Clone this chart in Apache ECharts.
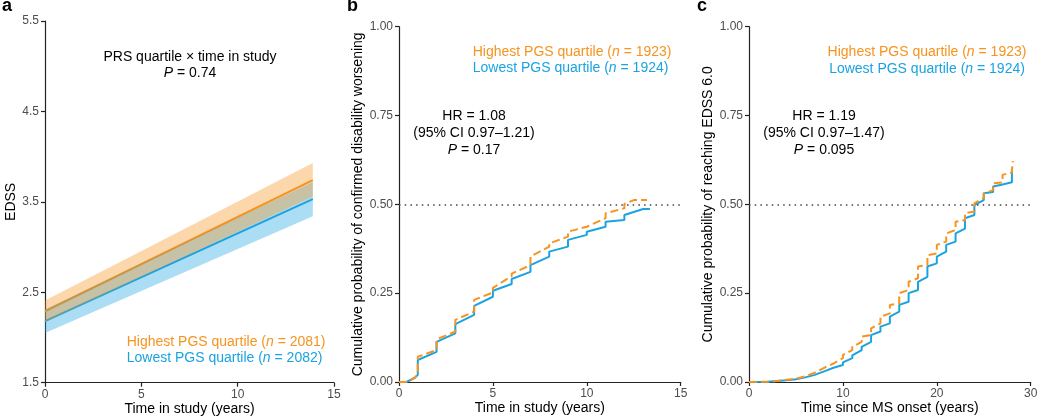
<!DOCTYPE html>
<html><head><meta charset="utf-8">
<script src="https://cdn.jsdelivr.net/npm/echarts@6/dist/echarts.min.js"></script>
<style>html,body{margin:0;padding:0;background:#fff}#c{width:1038px;height:418px}</style>
</head><body><div id="c"></div>
<script>
// ---- Panel a: linear mixed model fit (EDSS vs time in study)
const aTime = [0, 13.9];
const aHighFit = [2.29, 3.74];
const aHighLower = [2.17, 3.56];
const aHighUpper = [2.41, 3.93];
const aLowFit = [2.18, 3.53];
const aLowLower = [2.05, 3.34];
const aLowUpper = [2.31, 3.72];
const aYTicks = [1.5, 2.5, 3.5, 4.5, 5.5];

// ---- Panel b: cumulative probability of confirmed disability worsening
const bHighTime = [0, 0.5, 0.9, 1, 1, 2, 2, 3, 3, 4, 4, 5, 5, 6, 6, 7, 7, 8, 8, 9, 9, 10, 10, 11, 11, 12, 12, 12.5, 13.2];
const bHighProb = [0, 0, 0.015, 0.025, 0.071, 0.09, 0.12, 0.142, 0.175, 0.198, 0.231, 0.252, 0.265, 0.298, 0.305, 0.329, 0.353, 0.381, 0.39, 0.409, 0.423, 0.437, 0.441, 0.461, 0.475, 0.489, 0.501, 0.512, 0.512];
const bLowTime = [0, 0.4, 0.85, 1, 1, 2, 2, 3, 3, 4, 4, 5, 5, 6, 6, 7, 7, 8, 8, 9, 9, 10, 10, 11, 11, 12, 12, 13, 13.36];
const bLowProb = [0, 0, 0.012, 0.02, 0.062, 0.085, 0.113, 0.137, 0.163, 0.189, 0.214, 0.240, 0.257, 0.276, 0.29, 0.31, 0.329, 0.353, 0.367, 0.381, 0.40, 0.414, 0.423, 0.437, 0.451, 0.456, 0.47, 0.487, 0.487];

// ---- Panel c: cumulative probability of reaching EDSS 6.0
const cHighTime = [0, 2, 3, 4, 5, 6, 7, 8, 9, 10, 10, 11, 11, 12, 12, 13, 13, 14, 14, 15, 15, 16, 16, 17, 17, 18, 18, 19, 19, 20, 20, 21, 21, 22, 22, 23, 23, 24, 24, 25, 25, 26, 26, 27, 27, 28, 28, 28.1];
const cHighProb = [0, 0.001, 0.003, 0.006, 0.009, 0.016, 0.026, 0.04, 0.052, 0.067, 0.076, 0.09, 0.099, 0.113, 0.128, 0.132, 0.151, 0.165, 0.184, 0.193, 0.217, 0.221, 0.25, 0.259, 0.282, 0.292, 0.325, 0.329, 0.357, 0.362, 0.386, 0.395, 0.418, 0.428, 0.451, 0.456, 0.475, 0.48, 0.503, 0.518, 0.531, 0.54, 0.559, 0.562, 0.583, 0.59, 0.597, 0.622];
const cLowTime = [0, 2, 3, 4, 5, 6, 7, 8, 9, 10, 10, 11, 11, 12, 12, 13, 13, 14, 14, 15, 15, 16, 16, 17, 17, 18, 18, 19, 19, 20, 20, 21, 21, 22, 22, 23, 23, 24, 24, 25, 25, 26, 26, 27, 27, 28, 28];
const cLowProb = [0, 0.001, 0.003, 0.005, 0.008, 0.013, 0.02, 0.03, 0.04, 0.048, 0.055, 0.067, 0.075, 0.09, 0.099, 0.113, 0.132, 0.142, 0.156, 0.165, 0.184, 0.198, 0.217, 0.226, 0.25, 0.259, 0.282, 0.296, 0.325, 0.334, 0.353, 0.367, 0.386, 0.395, 0.418, 0.432, 0.461, 0.47, 0.498, 0.512, 0.531, 0.535, 0.55, 0.556, 0.559, 0.562, 0.597];
const probTicks = [0, 0.25, 0.5, 0.75, 1];

const ORANGE = '#F7931E', BLUE = '#1BA3E0';
const FONT = "'Liberation Sans', Arial, Helvetica, sans-serif";
const zip = (xs, ys) => xs.map((x, i) => [x, ys[i]]);

const chart = echarts.init(document.getElementById('c'), null, {renderer: 'canvas'});

function xAxis(gi, max, interval, name) {
  return {
    type: 'value', gridIndex: gi, min: 0, max: max, interval: interval,
    name: name, nameLocation: 'middle', nameGap: 19, nameMoveOverlap: false,
    nameTextStyle: {fontFamily: FONT, fontSize: 14, color: '#000'},
    axisLine: {show: true, onZero: false, lineStyle: {color: '#222', width: 1.2}},
    axisTick: {show: true, length: 4, lineStyle: {color: '#222', width: 1.2}},
    axisLabel: {fontFamily: FONT, fontSize: 12, color: '#4D4D4D', margin: 6},
    splitLine: {show: false}
  };
}
function yAxis(gi, min, max, ticks, digits, name, gap) {
  return {
    type: 'value', gridIndex: gi, min: min, max: max,
    name: name, nameLocation: 'middle', nameGap: gap, nameRotate: 90,
    nameTextStyle: {fontFamily: FONT, fontSize: 14, color: '#000'},
    axisLine: {show: true, onZero: false, lineStyle: {color: '#222', width: 1.2}},
    axisTick: {show: true, length: 4, customValues: ticks, lineStyle: {color: '#222', width: 1.2}},
    axisLabel: {fontFamily: FONT, fontSize: 12, color: '#4D4D4D', margin: 6, customValues: ticks,
      formatter: v => Number(v).toFixed(digits)},
    splitLine: {show: false}
  };
}

function ribbon(lower, upper, color, z) {
  return {
    type: 'custom', xAxisIndex: 0, yAxisIndex: 0, z: z, silent: true,
    data: [[0]],
    renderItem: function (params, api) {
      const pts = [];
      for (let i = 0; i < aTime.length; i++) pts.push(api.coord([aTime[i], upper[i]]));
      for (let i = aTime.length - 1; i >= 0; i--) pts.push(api.coord([aTime[i], lower[i]]));
      return {type: 'polygon', shape: {points: pts}, style: {fill: color, opacity: 0.37}};
    }
  };
}

function txt(x, y, text, align, color, size, bold) {
  return {
    type: 'text', x: x, y: y, silent: true,
    style: {
      text: text, fill: color || '#000', align: align || 'center', verticalAlign: 'middle',
      font: (bold ? 'bold ' : '') + (size || 14) + 'px ' + FONT,
      rich: {
        i: {fontStyle: 'italic', fontSize: size || 14, fontFamily: FONT, fill: color || '#000'},
        t: {fontSize: size || 14, fontFamily: FONT, fill: color || '#000'}
      }
    }
  };
}

const dotted = {
  silent: true, symbol: 'none',
  label: {show: false},
  lineStyle: {color: '#444', width: 1.5, type: [1.5, 4.2]},
  data: [{yAxis: 0.5}]
};

const option = {
  animation: false,
  backgroundColor: '#fff',
  grid: [
    {left: 45, top: 21, width: 289, height: 361.7, outerBoundsMode: 'none', containLabel: false},
    {left: 399, top: 26.7, width: 281.7, height: 355.3, outerBoundsMode: 'none', containLabel: false},
    {left: 749, top: 26.7, width: 281.7, height: 355.3, outerBoundsMode: 'none', containLabel: false}
  ],
  xAxis: [
    xAxis(0, 15, 5, 'Time in study (years)'),
    xAxis(1, 15, 5, 'Time in study (years)'),
    xAxis(2, 30, 10, 'Time since MS onset (years)')
  ],
  yAxis: [
    yAxis(0, 1.5, 5.5, aYTicks, 1, 'EDSS', 26),
    yAxis(1, 0, 1, probTicks, 2, 'Cumulative probability of confirmed disability worsening', 34),
    yAxis(2, 0, 1, probTicks, 2, 'Cumulative probability of reaching EDSS 6.0', 34)
  ],
  series: [
    {type: 'line', xAxisIndex: 0, yAxisIndex: 0, z: 1, symbol: 'none', data: zip(aTime, aHighFit),
      lineStyle: {color: ORANGE, width: 2}},
    {type: 'line', xAxisIndex: 0, yAxisIndex: 0, z: 1, symbol: 'none', data: zip(aTime, aLowFit),
      lineStyle: {color: BLUE, width: 2}},
    ribbon(aLowLower, aLowUpper, BLUE, 2),
    ribbon(aHighLower, aHighUpper, ORANGE, 3),

    {type: 'line', xAxisIndex: 1, yAxisIndex: 1, z: 3, symbol: 'none', data: zip(bLowTime, bLowProb),
      lineStyle: {color: BLUE, width: 2}, markLine: dotted},
    {type: 'line', xAxisIndex: 1, yAxisIndex: 1, z: 4, symbol: 'none', data: zip(bHighTime, bHighProb),
      lineStyle: {color: ORANGE, width: 2, type: [8, 4]}},

    {type: 'line', xAxisIndex: 2, yAxisIndex: 2, z: 3, symbol: 'none', data: zip(cLowTime, cLowProb),
      lineStyle: {color: BLUE, width: 2}, markLine: dotted},
    {type: 'line', xAxisIndex: 2, yAxisIndex: 2, z: 4, symbol: 'none', data: zip(cHighTime, cHighProb),
      lineStyle: {color: ORANGE, width: 2, type: [8, 4]}}
  ],
  graphic: [
    txt(2, 6, 'a', 'left', '#000', 18, true),
    txt(347, 6, 'b', 'left', '#000', 18, true),
    txt(697, 6, 'c', 'left', '#000', 18, true),

    txt(190, 57, 'PRS quartile × time in study'),
    txt(190, 73.5, '{i|P}{t| = 0.74}'),
    txt(126.7, 341.7, '{t|Highest PGS quartile (}{i|n}{t| = 2081)}', 'left', ORANGE),
    txt(126.7, 358.3, '{t|Lowest PGS quartile (}{i|n}{t| = 2082)}', 'left', BLUE),

    txt(472.7, 51.7, '{t|Highest PGS quartile (}{i|n}{t| = 1923)}', 'left', ORANGE),
    txt(472.7, 68, '{t|Lowest PGS quartile (}{i|n}{t| = 1924)}', 'left', BLUE),
    txt(474, 116, 'HR = 1.08'),
    txt(474, 133.3, '(95% CI 0.97–1.21)'),
    txt(474, 150, '{i|P}{t| = 0.17}'),

    txt(927, 51.7, '{t|Highest PGS quartile (}{i|n}{t| = 1923)}', 'center', ORANGE),
    txt(927, 69, '{t|Lowest PGS quartile (}{i|n}{t| = 1924)}', 'center', BLUE),
    txt(824, 116, 'HR = 1.19'),
    txt(824, 133.3, '(95% CI 0.97–1.47)'),
    txt(824, 150, '{i|P}{t| = 0.095}')
  ]
};
chart.setOption(option);
</script>
</body></html>
